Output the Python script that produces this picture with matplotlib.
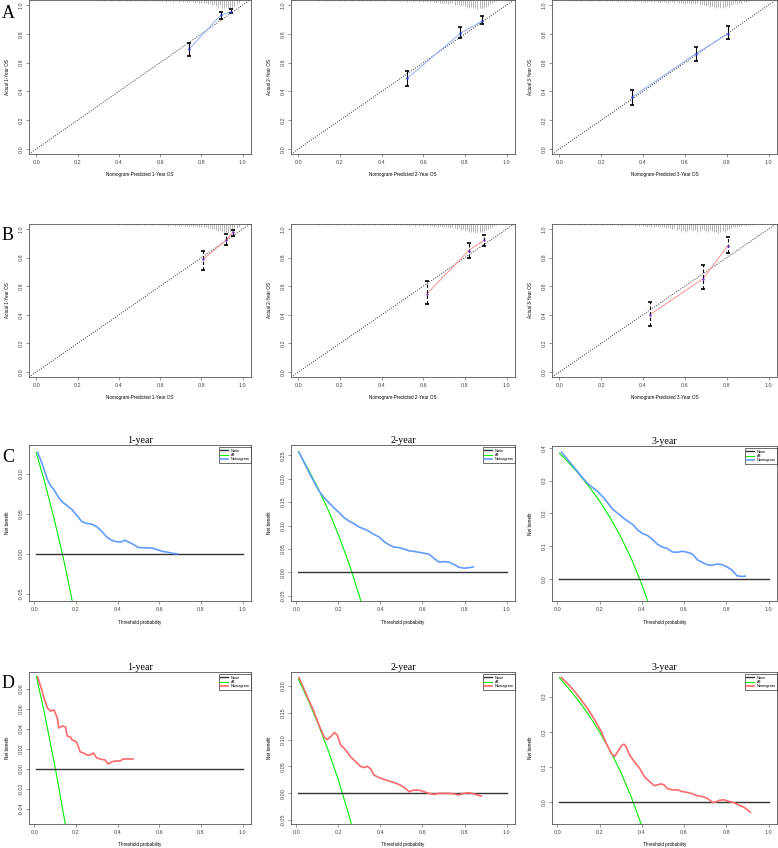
import numpy as np
import matplotlib.pyplot as plt

plt.rcParams['font.family'] = ['Liberation Sans', 'DejaVu Sans']

# ---------------- calibration data (predicted, observed, CI) ----------------
a1_pred = [0.738, 0.894, 0.944]; a1_obs = [0.692, 0.930, 0.953]
a1_lo = [0.646, 0.900, 0.942];   a1_hi = [0.738, 0.949, 0.974]
a2_pred = [0.522, 0.778, 0.884]; a2_obs = [0.490, 0.803, 0.891]
a2_lo = [0.436, 0.768, 0.866];   a2_hi = [0.540, 0.849, 0.926]
a3_pred = [0.347, 0.651, 0.807]; a3_obs = [0.360, 0.660, 0.802]
a3_lo = [0.306, 0.608, 0.765];   a3_hi = [0.410, 0.709, 0.853]
b1_pred = [0.809, 0.919, 0.952]; b1_obs = [0.790, 0.921, 0.977]
b1_lo = [0.716, 0.886, 0.954];   b1_hi = [0.846, 0.965, 0.991]
b2_pred = [0.618, 0.817, 0.891]; b2_obs = [0.547, 0.849, 0.921]
b2_lo = [0.477, 0.798, 0.879];   b2_hi = [0.635, 0.900, 0.961]
b3_pred = [0.433, 0.687, 0.805]; b3_obs = [0.401, 0.653, 0.883]
b3_lo = [0.320, 0.577, 0.829];   b3_hi = [0.489, 0.746, 0.942]

# histogram of predicted risk (counts per 0.01 bin, starting at the given value)
a1_rug_start = 0.30
a1_rug = [1,0,1,1,0,1,1,1,0,1, 1,1,0,1,1,1,1,0,1,1, 1,1,1,1,1,0,1,1,1,1,
          1,1,1,2,1,1,2,1,1,2, 1,2,1,2,2,1,2,3,2,3, 3,4,3,5,4,6,5,7,8,6,
          9,10,8,11,10,9,7,5,3]
a2_rug_start = 0.10
a2_rug = [1,0,1,0,1,1,0,1,0,1, 1,0,1,1,0,1,1,0,1,1, 1,1,0,1,1,1,0,1,1,1,
          1,1,1,0,1,1,1,1,1,1, 1,1,2,1,1,2,1,1,2,1, 2,1,2,2,1,2,3,2,3,3,
          4,3,5,4,4,6,5,6,7,6, 7,8,9,8,10,9,11,10,9,10, 8,7,5,4,2,1]
a3_rug_start = 0.05
a3_rug = [1,0,1,1,0,1,1,0,1,1, 1,1,0,1,1,1,0,1,1,1, 1,1,1,2,1,1,1,2,1,1,
          1,2,1,1,2,1,2,2,1,2, 2,1,2,3,2,2,4,3,2,2, 3,2,4,3,3,5,4,3,5,4,
          5,4,6,5,6,7,6,8,7,8, 9,8,10,9,8,7,8,6,5,4, 5,3,4,2,2,1]
b1_rug_start = 0.40
b1_rug = [1,0,1,0,1,1,0,1,0,1, 1,0,1,1,0,1,1,1,0,1, 1,1,1,1,2,1,1,2,1,2,
          2,1,2,2,3,2,3,2,3,3, 3,4,4,5,5,6,6,7,8,7, 9,10,9,11,10,9,8,5,3]
b2_rug_start = 0.10
b2_rug = [1,0,0,1,0,1,0,0,1,0, 1,0,1,0,0,1,0,1,0,1, 0,1,1,0,1,0,1,1,0,1,
          1,0,1,1,1,0,1,1,1,1, 1,1,1,2,1,1,2,1,2,1, 2,1,2,2,2,3,2,3,2,3,
          3,4,3,5,4,5,6,5,7,6, 8,7,9,10,9,11,10,9,10,8, 7,6,5,3,2,1]
b3_rug_start = 0.05
b3_rug = [1,0,1,0,1,1,0,1,0,1, 1,0,1,1,0,1,1,0,1,1, 1,1,0,1,1,2,1,1,1,1,
          1,2,1,2,1,2,2,3,2,3, 3,2,4,3,4,3,5,4,5,6, 5,7,6,8,7,9,8,7,6,8,
          7,9,8,6,7,8,9,7,8,10, 9,11,10,8,9,7,6,5,4,3, 3,2,2,1,2,1,1,1]

# ---------------- decision curve data ----------------
c1_x = [0.016,0.039,0.063,0.079,0.095,0.118,0.134,0.158,0.182,0.205,0.229,0.253,0.276,0.300,0.324,
        0.348,0.371,0.395,0.419,0.434,0.450,0.474,0.498,0.521,0.545,0.569,0.592,0.616,0.640,0.664,0.687]
c1_y = [0.127,0.112,0.093,0.085,0.080,0.070,0.065,0.060,0.055,0.048,0.040,0.038,0.037,0.034,0.028,
        0.021,0.017,0.015,0.015,0.017,0.015,0.012,0.008,0.0075,0.0075,0.007,0.005,0.003,0.002,0.0005,0.0]
c1_all_x = [0.01, 0.05, 0.10, 0.135, 0.15, 0.20]
c1_all_y = [0.126, 0.090, 0.039, 0.0, -0.018, -0.081]

c2_x = [0.013,0.036,0.060,0.084,0.108,0.132,0.155,0.179,0.203,0.227,0.250,0.274,0.298,0.322,0.345,0.369,
        0.393,0.417,0.441,0.464,0.488,0.512,0.536,0.559,0.583,0.607,0.631,0.655,0.678,0.702,0.726,0.750,
        0.773,0.797,0.821,0.842]
c2_y = [0.257,0.236,0.214,0.194,0.174,0.160,0.149,0.138,0.128,0.117,0.110,0.104,0.097,0.093,0.088,0.081,
        0.076,0.066,0.059,0.054,0.053,0.050,0.046,0.045,0.043,0.041,0.039,0.030,0.022,0.023,0.022,0.017,
        0.011,0.009,0.010,0.012]
c2_all_x = [0.01, 0.05, 0.10, 0.15, 0.20, 0.25, 0.30, 0.32]
c2_all_y = [0.258, 0.226, 0.183, 0.135, 0.081, 0.020, -0.050, -0.081]

c3_x = [0.020,0.052,0.083,0.114,0.146,0.169,0.193,0.216,0.240,0.263,0.287,0.310,0.334,0.357,0.381,0.404,
        0.428,0.451,0.475,0.498,0.522,0.545,0.569,0.592,0.616,0.639,0.663,0.687,0.710,0.734,0.757,0.781,
        0.804,0.828,0.851,0.875,0.890]
c3_y = [0.387,0.362,0.338,0.313,0.290,0.278,0.266,0.250,0.231,0.212,0.200,0.187,0.176,0.166,0.149,0.138,
        0.132,0.120,0.105,0.097,0.092,0.082,0.081,0.084,0.081,0.076,0.058,0.050,0.043,0.041,0.045,0.043,
        0.036,0.026,0.009,0.007,0.008]
c3_all_x = [0.01, 0.05, 0.10, 0.15, 0.20, 0.25, 0.30, 0.35, 0.40, 0.45]
c3_all_y = [0.384, 0.358, 0.322, 0.282, 0.238, 0.187, 0.129, 0.062, -0.017, -0.109]

d1_x = [0.016,0.032,0.047,0.063,0.079,0.095,0.111,0.118,0.134,0.150,0.158,0.174,0.182,0.197,0.205,0.221,
        0.237,0.253,0.269,0.284,0.300,0.316,0.340,0.355,0.371,0.387,0.411,0.427,0.450,0.474]
d1_y = [0.092,0.082,0.071,0.061,0.058,0.059,0.051,0.041,0.043,0.042,0.033,0.032,0.029,0.028,0.026,0.017,
        0.016,0.014,0.014,0.016,0.011,0.010,0.009,0.005,0.007,0.008,0.008,0.010,0.010,0.010]
d1_all_x = [0.01, 0.05, 0.10, 0.15, 0.17]
d1_all_y = [0.093, 0.055, 0.002, -0.056, -0.082]

d2_x = [0.013,0.036,0.060,0.084,0.108,0.132,0.147,0.163,0.182,0.195,0.211,0.227,0.242,0.258,0.282,0.306,
        0.322,0.338,0.353,0.369,0.385,0.401,0.425,0.448,0.472,0.496,0.520,0.536,0.559,0.583,0.607,0.631,
        0.655,0.678,0.702,0.726,0.750,0.773,0.797,0.821,0.845,0.868,0.880]
d2_y = [0.215,0.195,0.173,0.152,0.127,0.105,0.100,0.105,0.113,0.108,0.090,0.084,0.077,0.068,0.059,0.050,
        0.048,0.050,0.046,0.034,0.031,0.028,0.025,0.022,0.019,0.015,0.009,0.003,0.006,0.006,0.003,0.000,
        -0.002,0.000,0.000,0.000,-0.001,-0.003,0.000,0.001,-0.001,-0.004,-0.005]
d2_all_x = [0.01, 0.05, 0.10, 0.15, 0.20, 0.25, 0.28]
d2_all_y = [0.212, 0.179, 0.133, 0.082, 0.025, -0.040, -0.083]

d3_x = [0.020,0.052,0.083,0.114,0.146,0.177,0.208,0.232,0.255,0.271,0.287,0.303,0.315,0.326,0.342,0.365,
        0.389,0.412,0.436,0.459,0.475,0.491,0.506,0.522,0.545,0.569,0.592,0.616,0.639,0.663,0.687,0.710,
        0.734,0.749,0.765,0.788,0.812,0.835,0.859,0.882,0.906,0.914]
d3_y = [0.354,0.335,0.314,0.290,0.264,0.234,0.201,0.167,0.139,0.130,0.144,0.160,0.165,0.158,0.134,0.115,
        0.097,0.073,0.059,0.047,0.049,0.052,0.049,0.038,0.035,0.035,0.030,0.028,0.024,0.018,0.016,0.011,
        0.000,0.000,0.005,0.007,0.002,-0.001,-0.008,-0.014,-0.024,-0.029]
d3_all_x = [0.01, 0.05, 0.10, 0.15, 0.20, 0.25, 0.30, 0.35, 0.40, 0.42]
d3_all_y = [0.354, 0.326, 0.289, 0.247, 0.200, 0.147, 0.086, 0.015, -0.067, -0.103]

W, H = 778, 848
fig = plt.figure(figsize=(W / 100, H / 100), dpi=100)


def add_ax(l, t, r, b):
    return fig.add_axes([l / W, 1 - b / H, (r - l) / W, (b - t) / H])


def r_style(ax):
    for s in ax.spines.values():
        s.set_color('#555555')
        s.set_linewidth(0.6)
    ax.tick_params(labelsize=3.9, length=2.5, width=0.4, pad=1.5,
                   colors='#444444')
    ax.tick_params(axis='y', labelrotation=90)
    for lab in ax.get_yticklabels():
        lab.set_va('center')
    ax.yaxis.set_label_coords(-0.085, 0.5)
    ax.xaxis.set_label_coords(0.5, -0.12)


def calib(ax, pred, obs, lo, hi, rug_start, rug, year, line_col, pt_col, dashed):
    pred, obs, lo, hi = map(np.array, (pred, obs, lo, hi))
    ax.set_xlim(-0.035, 1.04)
    ax.set_ylim(-0.035, 1.035)
    ax.axline((0, 0), (1, 1), color='#333333', lw=0.7, ls=(0, (1, 1.5)))
    rx = rug_start + 0.01 * np.arange(len(rug))
    rh = np.array(rug) * 0.0055
    ax.vlines(rx, 1 - rh, 1, transform=ax.get_xaxis_transform(),
              colors='#999999', lw=0.5)
    ax.plot(pred, obs, color=line_col, lw=0.7)
    eb = ax.errorbar(pred, obs, yerr=[obs - lo, hi - obs], fmt='none',
                     ecolor='black', elinewidth=0.8, capsize=1.7, capthick=1.2)
    if dashed:
        eb[2][0].set_linestyle((0, (3, 2)))
    ax.plot(pred, obs, 'o', ms=1.7, color=pt_col, mec='none')
    ticks = [0.0, 0.2, 0.4, 0.6, 0.8, 1.0]
    ax.set_xticks(ticks, ['%.1f' % t for t in ticks])
    ax.set_yticks(ticks, ['%.1f' % t for t in ticks])
    ax.set_xlabel('Nomogram-Predicted %d-Year OS' % year, fontsize=3.3)
    ax.set_ylabel('Actual %d-Year OS' % year, fontsize=3.3)
    r_style(ax)


def dca(ax, title, x, y, all_x, all_y, col, ylim, yticks, fmt):
    h_all, = ax.plot(all_x, all_y, color='#00EE00', lw=0.8)
    h_none, = ax.plot([0.01, 1.0], [0, 0], color='#333333', lw=1.0)
    h_nomo, = ax.plot(x, y, color=col, lw=1.2)
    ax.set_xlim(-0.025, 1.04)
    ax.set_ylim(*ylim)
    ax.set_xticks([0.0, 0.2, 0.4, 0.6, 0.8, 1.0],
                  ['0.0', '0.2', '0.4', '0.6', '0.8', '1.0'])
    ax.set_yticks(yticks, [fmt % t for t in yticks])
    ax.set_xlabel('Threshold probability', fontsize=3.3)
    ax.set_ylabel('Net benefit', fontsize=3.3)
    ax.set_title(title, fontsize=7.2, family='Liberation Serif', pad=1.5)
    leg = ax.legend([h_none, h_all, h_nomo], ['None', 'All', 'Nomogram'],
                    loc='upper right', bbox_to_anchor=(1.0, 0.985),
                    borderaxespad=0, fontsize=2.8, frameon=True, fancybox=False,
                    edgecolor='black', framealpha=1, handlelength=2.2,
                    handletextpad=0.6, borderpad=0.35, labelspacing=0.1)
    leg.get_frame().set_linewidth(0.4)
    r_style(ax)


blue_line, blue_pt = '#8FB0FF', '#2B3BD6'
red_line, red_pt = '#FF9090', '#6A2ACF'

ax = add_ax(29, 0, 251, 154)
calib(ax, a1_pred, a1_obs, a1_lo, a1_hi, a1_rug_start, a1_rug, 1, blue_line, blue_pt, False)
ax = add_ax(291, 0, 515, 154)
calib(ax, a2_pred, a2_obs, a2_lo, a2_hi, a2_rug_start, a2_rug, 2, blue_line, blue_pt, False)
ax = add_ax(552, 0, 777, 154)
calib(ax, a3_pred, a3_obs, a3_lo, a3_hi, a3_rug_start, a3_rug, 3, blue_line, blue_pt, False)

ax = add_ax(29, 224, 251, 377)
calib(ax, b1_pred, b1_obs, b1_lo, b1_hi, b1_rug_start, b1_rug, 1, red_line, red_pt, True)
ax = add_ax(291, 224, 515, 377)
calib(ax, b2_pred, b2_obs, b2_lo, b2_hi, b2_rug_start, b2_rug, 2, red_line, red_pt, True)
ax = add_ax(552, 224, 777, 377)
calib(ax, b3_pred, b3_obs, b3_lo, b3_hi, b3_rug_start, b3_rug, 3, red_line, red_pt, True)

blue_dca, red_dca = '#619CFF', '#FF6A6A'
ax = add_ax(29, 445, 251, 601)
dca(ax, '1-year', c1_x, c1_y, c1_all_x, c1_all_y, blue_dca, (-0.059, 0.136),
    [-0.05, 0.0, 0.05, 0.10], '%.2f')
ax = add_ax(291, 445, 515, 601)
dca(ax, '2-year', c2_x, c2_y, c2_all_x, c2_all_y, blue_dca, (-0.061, 0.272),
    [-0.05, 0.0, 0.05, 0.10, 0.15, 0.20, 0.25], '%.2f')
ax = add_ax(552, 446, 777, 601)
dca(ax, '3-year', c3_x, c3_y, c3_all_x, c3_all_y, blue_dca, (-0.068, 0.406),
    [0.0, 0.1, 0.2, 0.3, 0.4], '%.1f')

ax = add_ax(29, 672, 251, 824)
dca(ax, '1-year', d1_x, d1_y, d1_all_x, d1_all_y, red_dca, (-0.055, 0.097),
    [-0.04, -0.02, 0.0, 0.02, 0.04, 0.06, 0.08], '%.2f')
ax = add_ax(291, 672, 515, 824)
dca(ax, '2-year', d2_x, d2_y, d2_all_x, d2_all_y, red_dca, (-0.057, 0.2255),
    [-0.05, 0.0, 0.05, 0.10, 0.15, 0.20], '%.2f')
ax = add_ax(552, 672, 777, 824)
dca(ax, '3-year', d3_x, d3_y, d3_all_x, d3_all_y, red_dca, (-0.062, 0.37),
    [0.0, 0.1, 0.2, 0.3], '%.1f')

for letter, ypix in [('A', 13), ('B', 236), ('C', 458), ('D', 683)]:
    fig.text(2 / W, 1 - ypix / H, letter, fontsize=13, family='Liberation Serif',
             ha='left', va='center')

fig.savefig('out.png', dpi=100)
